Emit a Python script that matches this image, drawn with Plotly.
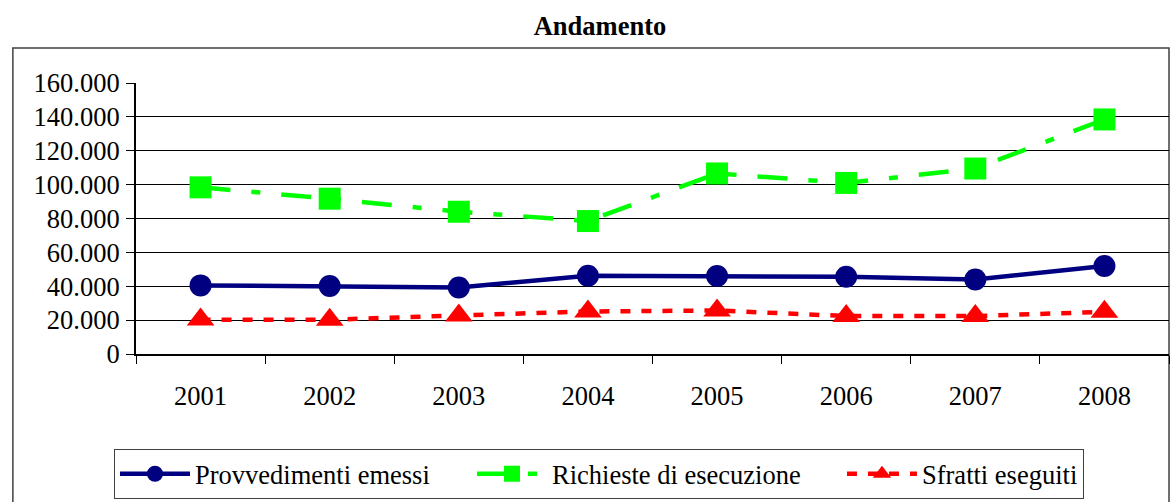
import plotly.graph_objects as go

# Dati
anni = ["2001", "2002", "2003", "2004", "2005", "2006", "2007", "2008"]
provvedimenti = [40500, 40200, 39300, 46200, 46000, 45600, 44000, 52000]
richieste = [98400, 91700, 84000, 78500, 106600, 101000, 109500, 138500]
sfratti = [20300, 20200, 22800, 25100, 25700, 22400, 22400, 24900]

font_name = "Liberation Serif, Times New Roman, serif"

fig = go.Figure()

fig.add_trace(go.Scatter(
    x=anni, y=provvedimenti, mode="lines+markers",
    name="Provvedimenti emessi",
    line=dict(color="#000080", width=4.5),
    marker=dict(symbol="circle", size=22, color="#000080"),
    legendwidth=272,
))
fig.add_trace(go.Scatter(
    x=anni, y=richieste, mode="lines+markers",
    name="Richieste di esecuzione",
    line=dict(color="#00FF00", width=4.5, dash="30px,21px,9px,21px"),
    marker=dict(symbol="square", size=22, color="#00FF00"),
    legendwidth=285,
))
fig.add_trace(go.Scatter(
    x=anni, y=sfratti, mode="lines+markers",
    name="Sfratti eseguiti",
    line=dict(color="#FF0000", width=4.5, dash="10px,11px"),
    marker=dict(symbol="triangle-up", size=24, color="#FF0000"),
))

# cornice esterna del grafico
fig.add_shape(type="rect", xref="paper", yref="paper",
              x0=-0.1192, x1=1.0, y0=-0.6, y1=1.129,
              line=dict(color="#404040", width=1.5), layer="below")

fig.update_layout(
    width=1171, height=502,
    margin=dict(l=136, r=2, t=83, b=148, autoexpand=False),
    paper_bgcolor="white", plot_bgcolor="white",
    separators=",.",
    font=dict(family=font_name, size=26.5, color="black"),
    title=dict(text="<b>Andamento</b>", x=600 / 1171, xanchor="center",
               y=1 - 26 / 502, yanchor="middle",
               font=dict(family=font_name, size=26.5, color="black")),
    xaxis=dict(
        type="category", range=[-0.5, 7.5],
        showline=True, linecolor="black", linewidth=2,
        ticks="outside", tickson="boundaries", ticklen=8, tickcolor="black",
        showgrid=False, ticklabelstandoff=17,
        tickfont=dict(size=26.5),
    ),
    yaxis=dict(
        range=[0, 160000], dtick=20000, tickformat=",d",
        showline=True, linecolor="black", linewidth=2,
        ticks="outside", ticklen=8, tickcolor="black",
        showgrid=True, gridcolor="black", gridwidth=1,
        zeroline=False, ticklabelstandoff=1,
        tickfont=dict(size=26.5),
    ),
    legend=dict(
        orientation="h", x=(114 - 136) / 1032, xanchor="left",
        y=(354 - 449) / 271, yanchor="top",
        bordercolor="#404040", borderwidth=1, bgcolor="white",
        itemwidth=70, font=dict(size=26.5),
    ),
)

# niente margine della pagina, così il grafico parte da (0,0)
fig.write_html(
    "out.html",
    config={"displayModeBar": False},
    post_script="document.body.style.margin='0';document.body.style.overflow='hidden';",
)
